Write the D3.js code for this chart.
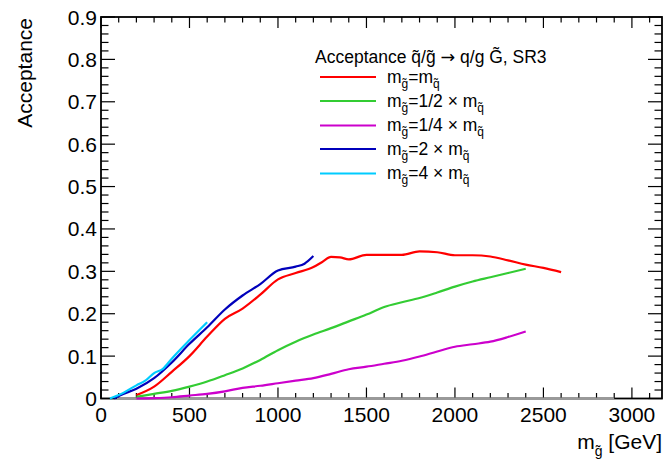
<!DOCTYPE html>
<html><head><meta charset="utf-8">
<script src="https://cdn.jsdelivr.net/npm/d3@7"></script>
<style>body{margin:0;background:#fff}svg{display:block}text{font-family:"Liberation Sans",Arial,sans-serif;fill:#000}</style>
</head><body><div id="c"></div>
<script>
// data: [mass GeV, acceptance]
const seriesNames = ["eq","half","quarter","twice","four"];
const eqData = [[200,0.008],[300,0.028],[400,0.063],[500,0.100],[600,0.146],[700,0.188],[800,0.212],[900,0.245],[1000,0.281],[1100,0.296],[1200,0.310],[1250,0.322],[1300,0.334],[1350,0.333],[1400,0.328],[1500,0.339],[1600,0.339],[1700,0.339],[1800,0.347],[1900,0.345],[2000,0.338],[2100,0.338],[2200,0.335],[2300,0.326],[2400,0.316],[2500,0.308],[2600,0.298]];
const halfData = [[200,0.004],[300,0.011],[400,0.018],[500,0.028],[600,0.040],[700,0.055],[800,0.071],[900,0.091],[1000,0.114],[1100,0.134],[1200,0.151],[1300,0.166],[1400,0.182],[1500,0.198],[1600,0.216],[1700,0.227],[1800,0.237],[1900,0.250],[2000,0.264],[2100,0.276],[2200,0.286],[2300,0.296],[2400,0.306]];
const quarterData = [[200,0.000],[300,0.001],[400,0.003],[500,0.007],[600,0.011],[700,0.017],[800,0.025],[900,0.030],[1000,0.036],[1100,0.042],[1200,0.048],[1300,0.058],[1400,0.069],[1500,0.075],[1600,0.082],[1700,0.089],[1800,0.099],[1900,0.111],[2000,0.122],[2100,0.128],[2200,0.134],[2300,0.145],[2400,0.158]];
const twiceData = [[75,0.000],[100,0.006],[200,0.023],[300,0.048],[400,0.085],[500,0.129],[600,0.168],[700,0.210],[800,0.243],[900,0.270],[1000,0.302],[1100,0.311],[1150,0.318],[1200,0.336]];
const fourData = [[50,0.000],[100,0.008],[200,0.031],[250,0.042],[300,0.060],[350,0.070],[400,0.094],[500,0.138],[600,0.180]];
const xTicks = [0,500,1000,1500,2000,2500,3000];
const yTicks = [0,0.1,0.2,0.3,0.4,0.5,0.6,0.7,0.8,0.9];
const yTickLabels = ["0","0.1","0.2","0.3","0.4","0.5","0.6","0.7","0.8","0.9"];
const colors = ["#ff0000","#33cc33","#cc00cc","#0000bb","#00ccff"];

const W=665,H=463;
const svg=d3.select("#c").append("svg").attr("width",W).attr("height",H);
const x=d3.scaleLinear().domain([0,3170]).range([101,662]);
const y=d3.scaleLinear().domain([0,0.9]).range([398.5,17]);

const gAx = svg.append("g");
const xMinor=d3.range(0,3170,100);
const yMinor=d3.range(0,0.9001,0.02);
xMinor.forEach(v=>{
  const maj = v%500===0; const L = maj?11:5.5;
  gAx.append("line").attr("x1",x(v)).attr("x2",x(v)).attr("y1",y(0)).attr("y2",y(0)-L).attr("stroke","#000").attr("stroke-width",1.2);
  gAx.append("line").attr("x1",x(v)).attr("x2",x(v)).attr("y1",y(0.9)).attr("y2",y(0.9)+L).attr("stroke","#000").attr("stroke-width",1.2);
});
yMinor.forEach((v,i)=>{
  const maj = i%5===0; const L = maj?14:7.5;
  gAx.append("line").attr("x1",x(0)).attr("x2",x(0)+L).attr("y1",y(v)).attr("y2",y(v)).attr("stroke","#000").attr("stroke-width",1.2);
  gAx.append("line").attr("x1",662).attr("x2",662-L).attr("y1",y(v)).attr("y2",y(v)).attr("stroke","#000").attr("stroke-width",1.2);
});
svg.append("rect").attr("x",101).attr("y",17).attr("width",561).attr("height",381.5).attr("fill","none").attr("stroke","#000").attr("stroke-width",1.8);
svg.append("line").attr("x1",x(90)).attr("x2",x(2900)).attr("y1",y(0)).attr("y2",y(0)).attr("stroke","#999").attr("stroke-width",2.2);

// tick labels
xTicks.forEach(v=>{
  svg.append("text").attr("x",x(v)).attr("y",422).attr("text-anchor","middle").attr("font-size",21).text(v);
});
yTicks.forEach((v,i)=>{
  svg.append("text").attr("x",97).attr("y",y(v)+7.5).attr("text-anchor","end").attr("font-size",21).text(yTickLabels[i]);
});

// axis titles
svg.append("text").attr("transform","translate(32,18) rotate(-90)").attr("text-anchor","end").attr("font-size",21).text("Acceptance");
const xt=svg.append("text").attr("x",662).attr("y",449).attr("text-anchor","end").attr("font-size",21);
xt.append("tspan").text("m");
xt.append("tspan").attr("font-size",14).attr("dy",7).text("g\u0303");
xt.append("tspan").attr("dy",-7).text(" [GeV]");

// curves
const line=d3.line().x(d=>x(d[0])).y(d=>y(d[1])).curve(d3.curveMonotoneX);
const allData=[eqData,halfData,quarterData,twiceData,fourData];
allData.forEach((d,i)=>{
  svg.append("path").datum(d).attr("d",line).attr("fill","none").attr("stroke",colors[i]).attr("stroke-width",2.2);
});

// legend
const tt=svg.append("text").attr("x",315).attr("y",63).attr("font-size",17.5);
tt.append("tspan").text("Acceptance q\u0303/g\u0303 ");
tt.append("tspan").style("font-family","'DejaVu Sans'").text("\u2192");
tt.append("tspan").text(" q/g G\u0303, SR3");
const legRatio=[null,"1/2","1/4","2","4"];
const legY=[77,101,125.5,149,173.5];
legY.forEach((ly,i)=>{
  svg.append("line").attr("x1",320).attr("x2",376).attr("y1",ly).attr("y2",ly).attr("stroke",colors[i]).attr("stroke-width",2.2);
  const t=svg.append("text").attr("x",387).attr("y",ly+5.5).attr("font-size",17.5);
  t.append("tspan").text("m");
  t.append("tspan").attr("font-size",12).attr("dy",5).text("g\u0303");
  t.append("tspan").attr("dy",-5).text(legRatio[i]===null?"=m":"="+legRatio[i]+" \u00d7 m");
  t.append("tspan").attr("font-size",12).attr("dy",5).text("q\u0303");
});
</script></body></html>
